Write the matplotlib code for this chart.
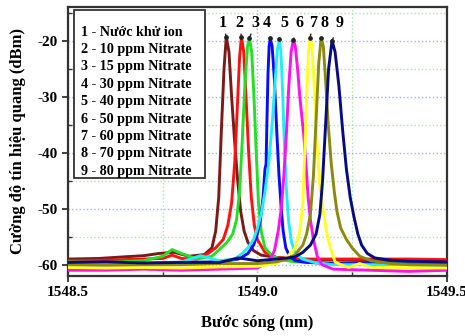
import numpy as np
import matplotlib.pyplot as plt
from matplotlib.patches import Rectangle
from matplotlib.ticker import MultipleLocator

plt.rcParams['font.family'] = ['Liberation Serif', 'DejaVu Serif']
plt.rcParams['font.weight'] = 'bold'
plt.rcParams['axes.unicode_minus'] = False

# spectra (wavelength nm, power dBm)
x1 = [1548.50, 1548.58, 1548.65, 1548.70, 1548.74, 1548.78, 1548.82, 1548.86, 1548.88, 1548.89, 1548.898, 1548.905, 1548.912, 1548.918, 1548.925, 1548.932, 1548.94, 1548.948, 1548.956, 1548.965, 1548.975, 1548.99, 1549.01, 1549.05, 1549.10, 1549.2, 1549.3, 1549.4, 1549.5]
y1 = [-59.0, -58.9, -58.6, -58.4, -58.0, -57.8, -58.5, -58.2, -57.0, -54.0, -48.0, -36.0, -25.0, -19.3, -22.0, -30.0, -38.0, -45.0, -50.5, -54.0, -56.0, -57.5, -58.3, -58.7, -59.0, -59.2, -59.3, -59.3, -59.4]

x2 = [1548.50, 1548.60, 1548.70, 1548.75, 1548.775, 1548.80, 1548.84, 1548.87, 1548.89, 1548.91, 1548.922, 1548.932, 1548.940, 1548.947, 1548.953, 1548.958, 1548.964, 1548.970, 1548.977, 1548.984, 1548.992, 1549.00, 1549.02, 1549.05, 1549.1, 1549.2, 1549.3, 1549.4, 1549.5]
y2 = [-59.3, -59.2, -59.0, -58.9, -58.3, -58.9, -59.0, -58.0, -57.0, -55.5, -53.0, -49.0, -42.0, -32.0, -23.0, -19.3, -22.0, -30.0, -40.0, -48.0, -53.0, -55.5, -57.8, -58.7, -59.0, -59.0, -59.0, -59.0, -59.1]

x3 = [1548.50, 1548.60, 1548.70, 1548.75, 1548.775, 1548.80, 1548.84, 1548.88, 1548.90, 1548.92, 1548.935, 1548.945, 1548.953, 1548.960, 1548.967, 1548.974, 1548.979, 1548.985, 1548.991, 1548.997, 1549.003, 1549.01, 1549.02, 1549.04, 1549.07, 1549.1, 1549.2, 1549.3, 1549.4, 1549.5]
y3 = [-59.5, -59.6, -59.3, -58.5, -57.3, -58.0, -59.0, -58.5, -57.3, -56.0, -54.5, -52.0, -47.0, -38.0, -28.0, -21.0, -19.5, -22.0, -30.0, -40.0, -49.0, -54.0, -57.0, -58.5, -59.2, -59.5, -59.7, -59.8, -59.8, -59.9]

x4 = [1548.50, 1548.60, 1548.70, 1548.80, 1548.90, 1548.95, 1548.975, 1548.99, 1549.00, 1549.008, 1549.015, 1549.020, 1549.023, 1549.025, 1549.028, 1549.031, 1549.034, 1549.039, 1549.045, 1549.051, 1549.057, 1549.063, 1549.068, 1549.075, 1549.085, 1549.10, 1549.13, 1549.2, 1549.3, 1549.4, 1549.5]
y4 = [-59.8, -59.7, -59.8, -59.6, -59.5, -59.0, -58.0, -56.5, -54.5, -52.0, -48.0, -43.0, -42.0, -35.0, -26.0, -21.0, -19.6, -21.0, -27.0, -36.0, -44.0, -50.0, -54.0, -57.0, -58.5, -59.3, -59.6, -59.8, -59.8, -59.9, -59.9]

x5 = [1548.50, 1548.60, 1548.70, 1548.80, 1548.85, 1548.90, 1548.94, 1548.96, 1548.975, 1548.99, 1549.00, 1549.01, 1549.02, 1549.03, 1549.04, 1549.047, 1549.053, 1549.058, 1549.062, 1549.066, 1549.071, 1549.076, 1549.082, 1549.09, 1549.10, 1549.12, 1549.15, 1549.2, 1549.3, 1549.4, 1549.5]
y5 = [-60.0, -59.9, -59.8, -59.5, -58.4, -59.3, -59.0, -58.0, -57.0, -55.5, -53.5, -51.0, -47.0, -42.0, -34.0, -27.0, -21.5, -19.7, -22.0, -28.0, -38.0, -46.0, -52.0, -56.0, -58.0, -59.0, -59.6, -60.0, -60.0, -60.1, -60.1]

x6 = [1548.50, 1548.60, 1548.70, 1548.80, 1548.90, 1549.00, 1549.03, 1549.045, 1549.055, 1549.063, 1549.07, 1549.077, 1549.083, 1549.089, 1549.095, 1549.100, 1549.106, 1549.112, 1549.118, 1549.122, 1549.128, 1549.134, 1549.14, 1549.148, 1549.158, 1549.17, 1549.2, 1549.3, 1549.4, 1549.5]
y6 = [-61.0, -61.0, -60.8, -61.0, -60.8, -60.6, -59.5, -57.5, -54.0, -50.0, -44.0, -36.0, -28.0, -22.0, -19.8, -21.0, -25.0, -30.0, -34.0, -36.5, -42.0, -48.0, -52.0, -55.5, -58.5, -60.0, -60.8, -61.0, -61.2, -61.0]

x7 = [1548.50, 1548.60, 1548.70, 1548.80, 1548.90, 1549.00, 1549.05, 1549.08, 1549.10, 1549.112, 1549.12, 1549.125, 1549.13, 1549.135, 1549.139, 1549.144, 1549.15, 1549.157, 1549.165, 1549.175, 1549.185, 1549.195, 1549.205, 1549.22, 1549.24, 1549.27, 1549.3, 1549.4, 1549.5]
y7 = [-60.5, -60.6, -60.5, -60.6, -60.4, -60.3, -59.8, -58.5, -57.0, -54.0, -49.0, -40.0, -30.0, -22.0, -19.5, -21.0, -28.0, -38.0, -46.0, -51.0, -55.0, -57.5, -59.5, -60.0, -60.5, -59.8, -60.5, -60.5, -60.6]

x8 = [1548.50, 1548.60, 1548.70, 1548.80, 1548.90, 1549.00, 1549.05, 1549.08, 1549.10, 1549.12, 1549.13, 1549.14, 1549.148, 1549.155, 1549.162, 1549.168, 1549.174, 1549.18, 1549.187, 1549.195, 1549.203, 1549.21, 1549.22, 1549.235, 1549.25, 1549.27, 1549.3, 1549.35, 1549.4, 1549.5]
y8 = [-60.0, -60.1, -60.0, -60.0, -59.8, -59.8, -59.5, -59.0, -58.2, -56.5, -54.5, -51.0, -44.0, -34.0, -24.0, -19.6, -21.0, -27.0, -35.0, -42.0, -47.0, -50.5, -53.5, -55.5, -57.0, -58.5, -59.3, -59.8, -60.0, -60.1]

x9 = [1548.50, 1548.60, 1548.70, 1548.80, 1548.90, 1548.95, 1549.00, 1549.05, 1549.08, 1549.10, 1549.12, 1549.14, 1549.155, 1549.165, 1549.172, 1549.18, 1549.188, 1549.197, 1549.205, 1549.215, 1549.225, 1549.235, 1549.245, 1549.255, 1549.265, 1549.275, 1549.29, 1549.31, 1549.35, 1549.4, 1549.5]
y9 = [-59.6, -59.5, -59.7, -59.6, -59.6, -58.8, -59.3, -59.0, -58.8, -58.6, -57.8, -56.5, -54.5, -51.0, -45.0, -35.0, -25.0, -20.0, -22.0, -28.0, -36.0, -43.0, -48.0, -51.5, -54.5, -56.5, -58.0, -58.8, -59.2, -59.4, -59.5]

series_x = [x1, x2, x3, x4, x5, x6, x7, x8, x9]
series_y = [y1, y2, y3, y4, y5, y6, y7, y8, y9]
colors = ['#7a1a1a', '#ff1010', '#22e022', '#0a0aff', '#20eef5',
          '#ff10f0', '#ffff20', '#8a8a10', '#0a0a80']
legend_lines = ['1 - Nước khử ion', '2 - 10 ppm Nitrate', '3 - 15 ppm Nitrate',
                '4 - 30 ppm Nitrate', '5 - 40 ppm Nitrate', '6 - 50 ppm Nitrate',
                '7 - 60 ppm Nitrate', '8 - 70 ppm Nitrate', '9 - 80 ppm Nitrate']
label_dx = [-0.010, -0.005, 0.016, -0.008, 0.013, 0.016, 0.008, 0.008, 0.021]

fig = plt.figure(figsize=(4.65, 3.36), dpi=100)
ax = fig.add_axes([0.146, 0.179, 0.815, 0.800])

for i in range(9):
    ax.plot(series_x[i], series_y[i], color=colors[i], lw=2.1, zorder=3 + i)
    k = int(np.argmax(series_y[i]))
    px, py = series_x[i][k], series_y[i][k]
    ax.plot([px], [py], 'o', color='#222222', ms=2.4, zorder=20)
    ax.annotate(str(i + 1), xy=(px, py), xytext=(px + label_dx[i], -16.9),
                ha='center', va='center', fontsize=11.5, fontweight='bold',
                arrowprops=dict(arrowstyle='-', color='#222222', lw=1.0,
                                shrinkA=3, shrinkB=0), zorder=20)

ax.set_xlim(1548.5, 1549.5)
ax.set_ylim(-62, -14)
ax.xaxis.set_minor_locator(MultipleLocator(0.25))
ax.yaxis.set_major_locator(MultipleLocator(10))
ax.yaxis.set_minor_locator(MultipleLocator(5))
ax.set_xticks([1548.5, 1549.0, 1549.5])
ax.set_xticklabels(['1548.5', '1549.0', '1549.5'])
ax.grid(which='major', color='#a8a8ff', ls=':', lw=1.0)
ax.grid(which='minor', color='#a8e8a8', ls=':', lw=1.0)
ax.tick_params(which='major', direction='out', length=4, width=1.3, labelsize=11, color='#333333')
ax.tick_params(which='minor', direction='in', length=3, width=1.0, color='#333333')
for s in ax.spines.values():
    s.set_linewidth(1.6)
    s.set_color('#333333')
for lab in ax.get_xticklabels() + ax.get_yticklabels():
    lab.set_fontweight('bold')

ax.set_xlabel('Bước sóng (nm)', fontsize=12, fontweight='bold', labelpad=11)
ax.set_ylabel('Cường độ tín hiệu quang (dBm)', fontsize=12, fontweight='bold', labelpad=8)

# text box with the sample list
W, H = 465.0, 336.0
fig.patches.append(Rectangle((74 / W, 1 - 178 / H), 131 / W, 168 / H,
                             transform=fig.transFigure, fill=True, facecolor='white',
                             edgecolor='#333333', lw=1.3, zorder=30))
for j, line in enumerate(legend_lines):
    fig.text(81 / W, 1 - (32 + 17.4 * j) / H, line, fontsize=10.2, fontweight='bold',
             va='center', ha='left', zorder=31)

fig.savefig('out.png', dpi=100)
